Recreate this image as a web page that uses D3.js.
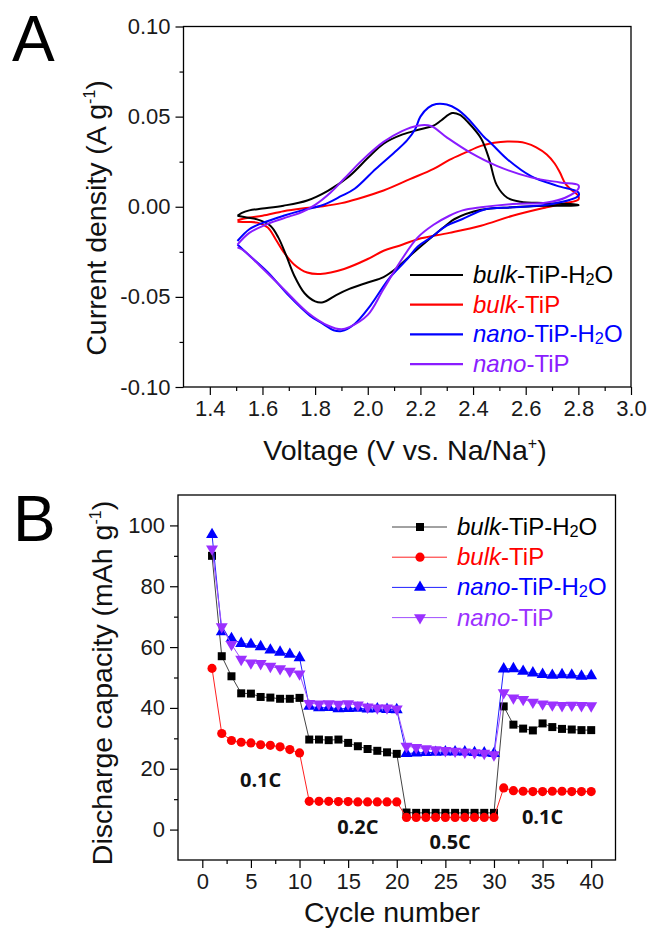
<!DOCTYPE html>
<html>
<head>
<meta charset="utf-8">
<script src="https://cdn.jsdelivr.net/npm/d3@7"></script>
<style>
  body { margin: 0; background: #fff; }
  text { font-family: "Liberation Sans", Arial, sans-serif; }
</style>
</head>
<body>
<svg id="fig" width="650" height="937"></svg>
<script>
// ---- panel A data: CV loops, [voltage, current density], upper branch then lower branch
var cvBulkH2O = [[1.505,-0.005],[1.52,-0.0035],[1.55,-0.002],[1.6,-0.001],[1.68,0.0006],[1.77,0.0035],[1.85,0.009],[1.93,0.017],[2.0,0.027],[2.06,0.035],[2.13,0.040],[2.2,0.043],[2.25,0.045],[2.28,0.048],[2.32,0.052],[2.35,0.051],[2.38,0.047],[2.43,0.038],[2.46,0.027],[2.49,0.012],[2.53,0.005],[2.58,0.0028],[2.68,0.002],[2.8,0.001],
                 [2.8,0.0008],[2.68,0.0005],[2.55,-0.0003],[2.43,-0.0017],[2.33,-0.0068],[2.3,-0.010],[2.25,-0.016],[2.17,-0.026],[2.11,-0.034],[2.06,-0.039],[2.0,-0.042],[1.93,-0.0456],[1.88,-0.049],[1.83,-0.053],[1.8,-0.0525],[1.76,-0.048],[1.72,-0.038],[1.69,-0.027],[1.66,-0.017],[1.63,-0.0105],[1.58,-0.007],[1.54,-0.006],[1.505,-0.005]];
var cvBulk = [[1.505,-0.0075],[1.55,-0.006],[1.6,-0.005],[1.68,-0.0025],[1.75,-0.001],[1.83,0.0003],[1.9,0.002],[1.96,0.0043],[2.06,0.009],[2.16,0.0153],[2.25,0.021],[2.31,0.026],[2.37,0.030],[2.43,0.0338],[2.48,0.0355],[2.53,0.0362],[2.57,0.036],[2.6,0.0353],[2.64,0.033],[2.68,0.029],[2.71,0.024],[2.73,0.019],[2.75,0.013],[2.77,0.0098],[2.8,0.006],
              [2.8,0.004],[2.75,0.002],[2.68,-0.0003],[2.55,-0.005],[2.43,-0.0105],[2.31,-0.0145],[2.19,-0.018],[2.12,-0.0216],[2.06,-0.0244],[2.0,-0.029],[1.91,-0.0345],[1.82,-0.0373],[1.77,-0.0365],[1.72,-0.032],[1.68,-0.025],[1.65,-0.018],[1.62,-0.0115],[1.58,-0.0088],[1.54,-0.0085],[1.505,-0.0083]];
var cvNanoH2O = [[1.505,-0.019],[1.55,-0.0125],[1.6,-0.009],[1.68,-0.005],[1.75,-0.002],[1.83,0.001],[1.9,0.006],[1.95,0.010],[2.03,0.021],[2.1,0.030],[2.15,0.037],[2.18,0.043],[2.2,0.050],[2.23,0.055],[2.26,0.057],[2.3,0.0567],[2.34,0.054],[2.38,0.049],[2.44,0.039],[2.47,0.035],[2.53,0.0264],[2.62,0.017],[2.72,0.0116],[2.8,0.008],
                 [2.8,0.006],[2.7,0.0015],[2.55,-0.0003],[2.45,-0.0013],[2.36,-0.0068],[2.3,-0.0105],[2.24,-0.017],[2.19,-0.022],[2.15,-0.029],[2.08,-0.040],[2.01,-0.0548],[1.95,-0.065],[1.9,-0.069],[1.87,-0.0685],[1.83,-0.065],[1.78,-0.0604],[1.7,-0.0493],[1.62,-0.0363],[1.55,-0.027],[1.505,-0.021]];
var cvNano = [[1.505,-0.021],[1.55,-0.0145],[1.62,-0.0095],[1.7,-0.0055],[1.75,-0.003],[1.8,0.001],[1.86,0.008],[1.91,0.0155],[1.98,0.026],[2.06,0.036],[2.13,0.042],[2.19,0.045],[2.24,0.0448],[2.3,0.0385],[2.39,0.030],[2.49,0.0227],[2.62,0.0163],[2.73,0.0135],[2.8,0.012],
              [2.8,0.010],[2.75,0.005],[2.68,0.0024],[2.55,0.0015],[2.43,-0.0003],[2.36,-0.002],[2.31,-0.005],[2.25,-0.010],[2.19,-0.017],[2.13,-0.029],[2.06,-0.0456],[2.0,-0.060],[1.93,-0.0668],[1.9,-0.068],[1.85,-0.066],[1.77,-0.0585],[1.68,-0.0456],[1.59,-0.0327],[1.53,-0.0244],[1.505,-0.0225]];

var voltTicks = [1.4, 1.6, 1.8, 2.0, 2.2, 2.4, 2.6, 2.8, 3.0];
var currentTicks = [-0.10, -0.05, 0.00, 0.05, 0.10];

// ---- panel B data: rate capability
var cycles = d3.range(1, 41);
var capBulkH2O = [90,57,50.4,44.8,44.7,43.6,43.4,43,43,43.3, 29.6,29.6,29.4,29.6,28.5,27.4,26.5,25.9,25.4,24.9, 5.6,5.5,5.5,5.5,5.5,5.5,5.5,5.5,5.5,5.5, 40.5,34.5,33.2,32.6,34.9,33.7,33.1,32.9,32.7,32.7];
var capBulk = [53,31.6,29.3,28.7,28.5,27.9,27.7,27.2,26.3,25.2, 9.3,9.3,9.3,9.2,9.2,9.1,9.1,9.1,9.1,9.1, 4,4,4,4,4,4,4,4,4,4, 13.7,12.8,12.6,12.5,12.5,12.6,12.6,12.5,12.5,12.5];
var capNanoH2O = [97,65,62.8,61.2,60.9,60.1,59,58.3,57.6,56.5, 40.5,40,40.1,39.7,39.8,39.9,39.6,39.7,39.5,39.4, 25,25.2,25.3,25.4,25.5,25.5,25.5,25.3,25.2,25, 52.8,52.9,52,51.5,51,50.7,50.9,50.8,50.4,50.6];
var capNano = [92.3,66.7,60.9,56,54.8,54.6,53.7,52.9,52.1,51.2, 41.5,41.3,41.4,41.2,41.4,41,40.3,40,40,39.7, 27.4,27,26.6,26.3,26,25.8,25.5,25.3,25.1,24.6, 45,43.3,42.8,41.9,41.3,41,40.8,40.9,40.8,40.7];
var cycleTicks = [0, 5, 10, 15, 20, 25, 30, 35, 40];
var capTicks = [0, 20, 40, 60, 80, 100];
var rateLabels = ["0.1C", "0.2C", "0.5C", "0.1C"];
var rateLabelCycle = [6, 16, 25.5, 35];
var rateLabelCap = [14, -1.5, -6.5, 2];

var names = [["bulk", "-TiP-H", "2", "O"], ["bulk", "-TiP", "", ""], ["nano", "-TiP-H", "2", "O"], ["nano", "-TiP", "", ""]];

var svg = d3.select("#fig");

function fmtDash(f) { return function (d) { return f(d).replace("\u2212", "-"); }; }

// draws box, major/minor ticks and tick labels
function drawAxes(x, y, xt, yt, xMinor, yMinor, fx, fy, fontSize) {
    var x0 = x.range()[0], x1 = x.range()[1], y0 = y.range()[0], y1 = y.range()[1];
    var gx = svg.append("g").attr("transform", "translate(0," + y0 + ")")
        .call(d3.axisBottom(x).tickValues(xt).tickFormat(fx).tickSize(8).tickSizeOuter(0).tickPadding(5));
    svg.append("g").attr("transform", "translate(0," + y0 + ")")
        .call(d3.axisBottom(x).tickValues(xMinor).tickFormat("").tickSize(4).tickSizeOuter(0));
    var gy = svg.append("g").attr("transform", "translate(" + x0 + ",0)")
        .call(d3.axisLeft(y).tickValues(yt).tickFormat(fy).tickSize(8).tickSizeOuter(0).tickPadding(5));
    svg.append("g").attr("transform", "translate(" + x0 + ",0)")
        .call(d3.axisLeft(y).tickValues(yMinor).tickFormat("").tickSize(4).tickSizeOuter(0));
    svg.selectAll(".domain").remove();
    svg.selectAll(".tick line").attr("stroke", "#000").attr("stroke-width", 1.2);
    [gx, gy].forEach(function (g) {
        g.selectAll("text").attr("font-size", fontSize).attr("fill", "#1a1a1a")
            .style("font-family", "'Liberation Sans', Arial, sans-serif");
    });
    svg.append("rect").attr("x", x0).attr("y", y1).attr("width", x1 - x0).attr("height", y0 - y1)
        .attr("fill", "none").attr("stroke", "#000").attr("stroke-width", 1.3);
}

function legendText(g, x, y, n, color, size) {
    var t = g.append("text").attr("x", x).attr("y", y).attr("font-size", size).attr("fill", color);
    t.append("tspan").attr("font-style", "italic").text(n[0]);
    t.append("tspan").text(n[1]);
    if (n[2]) {
        t.append("tspan").attr("font-size", size * 0.68).attr("dy", 2).text(n[2]);
        t.append("tspan").attr("dy", -2).text(n[3]);
    }
}

// ================= Panel A =================
var xA = d3.scaleLinear().domain([1.3, 3.0]).range([183.5, 631]);
var yA = d3.scaleLinear().domain([-0.10, 0.10]).range([387, 26.5]);
drawAxes(xA, yA, voltTicks, currentTicks,
    d3.range(1.5, 3.0, 0.2).map(function (d) { return +d.toFixed(1); }),
    [-0.075, -0.025, 0.025, 0.075],
    d3.format(".1f"), fmtDash(d3.format(".2f")), 22);

var colorsA = ["#000000", "#ff0000", "#0000ff", "#8a1cff"];
var cvSeries = [cvBulkH2O, cvBulk, cvNanoH2O, cvNano];
var lineA = d3.line().x(function (d) { return xA(d[0]); }).y(function (d) { return yA(d[1]); })
    .curve(d3.curveCatmullRom.alpha(0.5));
[1, 0, 2, 3].forEach(function (i) {
    svg.append("path").datum(cvSeries[i]).attr("d", lineA)
        .attr("fill", "none").attr("stroke", colorsA[i]).attr("stroke-width", 2);
});

var legA = svg.append("g");
names.forEach(function (n, i) {
    var yy = 275 + i * 29.7;
    legA.append("line").attr("x1", 410).attr("x2", 463).attr("y1", yy).attr("y2", yy)
        .attr("stroke", colorsA[i]).attr("stroke-width", 2.2);
    legendText(legA, 473, yy + 8, n, colorsA[i], 24);
});

svg.append("text").attr("x", 405).attr("y", 460).attr("text-anchor", "middle").attr("font-size", 28.5)
    .attr("fill", "#111")
    .call(function (t) {
        t.append("tspan").text("Voltage (V vs. Na/Na");
        t.append("tspan").attr("font-size", 16).attr("dy", -11).text("+");
        t.append("tspan").attr("dy", 11).text(")");
    });
svg.append("text").attr("transform", "translate(106,218) rotate(-90)").attr("text-anchor", "middle")
    .attr("font-size", 28.5).attr("fill", "#111")
    .call(function (t) {
        t.append("tspan").text("Current density (A g");
        t.append("tspan").attr("font-size", 16).attr("dy", -11).text("-1");
        t.append("tspan").attr("dy", 11).text(")");
    });
svg.append("text").attr("x", 12).attr("y", 61).attr("font-size", 64).attr("fill", "#000").text("A");

// ================= Panel B =================
var xB = d3.scaleLinear().domain([-2.5, 42.5]).range([178, 615.5]);
var yB = d3.scaleLinear().domain([-10, 110]).range([860, 495]);
drawAxes(xB, yB, cycleTicks, capTicks,
    d3.range(2.5, 42, 5), d3.range(10, 100, 20),
    d3.format("d"), d3.format("d"), 22);

var colorsB = ["#000000", "#ff0000", "#0000ff", "#9b30ff"];
var lineColorsB = ["#444444", "#ff2020", "#2020ff", "#a050ff"];
var symbolsB = [
    d3.symbol().type(d3.symbolSquare).size(64),
    d3.symbol().type(d3.symbolCircle).size(66),
    d3.symbol().type(d3.symbolTriangle).size(62),
    d3.symbol().type(d3.symbolTriangle).size(62)
];
var rotB = [0, 0, 0, 180];
var capSeries = [capBulkH2O, capBulk, capNanoH2O, capNano];
var lineB = d3.line().x(function (d, i) { return xB(cycles[i]); }).y(function (d) { return yB(d); });

capSeries.forEach(function (s, k) {
    var g = svg.append("g");
    g.append("path").datum(s).attr("d", lineB).attr("fill", "none")
        .attr("stroke", lineColorsB[k]).attr("stroke-width", 1);
    g.selectAll("path.m").data(s).enter().append("path").attr("class", "m")
        .attr("d", symbolsB[k])
        .attr("transform", function (d, i) {
            return "translate(" + xB(cycles[i]) + "," + yB(d) + ") rotate(" + rotB[k] + ")";
        })
        .attr("fill", colorsB[k]);
});

var legB = svg.append("g");
names.forEach(function (n, i) {
    var yy = 527 + i * 30.2;
    legB.append("line").attr("x1", 392).attr("x2", 447).attr("y1", yy).attr("y2", yy)
        .attr("stroke", lineColorsB[i]).attr("stroke-width", 1);
    legB.append("path").attr("d", symbolsB[i])
        .attr("transform", "translate(420," + yy + ") rotate(" + rotB[i] + ")")
        .attr("fill", colorsB[i]);
    legendText(legB, 457, yy + 8, n, colorsB[i], 24);
});

rateLabels.forEach(function (r, i) {
    svg.append("text").attr("x", xB(rateLabelCycle[i])).attr("y", yB(rateLabelCap[i]))
        .attr("text-anchor", "middle").attr("font-size", 20).attr("font-weight", 700)
        .style("font-family", "'Open Sans', sans-serif").attr("fill", "#111").text(r);
});

svg.append("text").attr("x", 392).attr("y", 922).attr("text-anchor", "middle").attr("font-size", 28.5)
    .attr("fill", "#111").text("Cycle number");
svg.append("text").attr("transform", "translate(112,683) rotate(-90)").attr("text-anchor", "middle")
    .attr("font-size", 28.5).attr("fill", "#111")
    .call(function (t) {
        t.append("tspan").text("Discharge capacity (mAh g");
        t.append("tspan").attr("font-size", 16).attr("dy", -11).text("-1");
        t.append("tspan").attr("dy", 11).text(")");
    });
svg.append("text").attr("x", 13).attr("y", 541).attr("font-size", 64).attr("fill", "#000").text("B");
</script>
</body>
</html>
